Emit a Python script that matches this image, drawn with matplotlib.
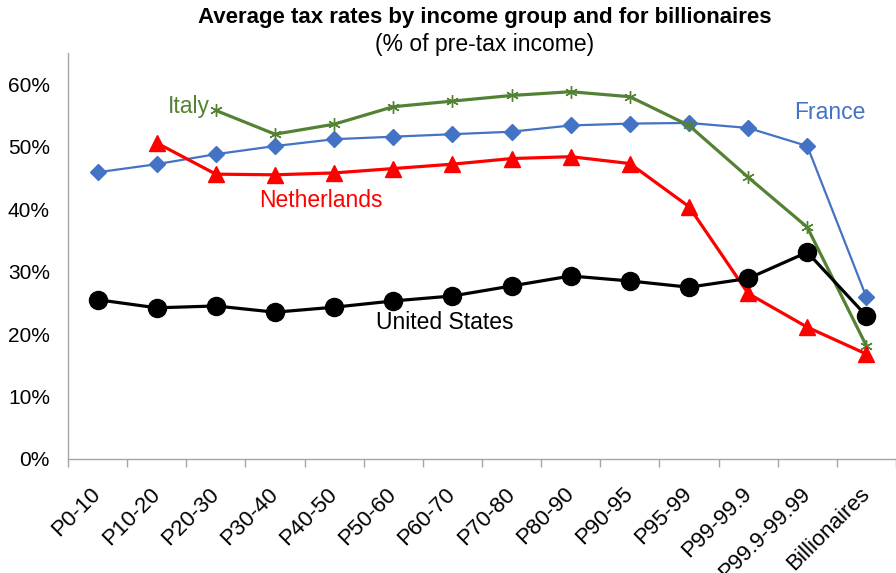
import numpy as np
import matplotlib.pyplot as plt

plt.rcParams['font.family'] = ['Liberation Sans', 'DejaVu Sans']

groups = ['P0-10', 'P10-20', 'P20-30', 'P30-40', 'P40-50', 'P50-60', 'P60-70',
          'P70-80', 'P80-90', 'P90-95', 'P95-99', 'P99-99.9', 'P99.9-99.99',
          'Billionaires']

# average tax rate, % of pre-tax income (None = no data)
france = [45.9, 47.2, 48.8, 50.1, 51.2, 51.6, 52.0, 52.4, 53.4, 53.7, 53.8, 53.0, 50.1, 25.9]
netherlands = [None, 50.6, 45.6, 45.5, 45.8, 46.5, 47.2, 48.1, 48.4, 47.3, 40.4, 26.5, 21.1, 16.8]
italy = [None, None, 55.8, 52.0, 53.6, 56.4, 57.3, 58.2, 58.8, 58.0, 53.4, 45.1, 37.1, 18.1]
usa = [25.5, 24.2, 24.5, 23.5, 24.3, 25.3, 26.1, 27.7, 29.3, 28.5, 27.5, 28.9, 33.1, 22.9]


def to_arr(vals):
    return np.array([np.nan if v is None else v for v in vals], dtype=float)


x = np.arange(len(groups))

fig = plt.figure(figsize=(8.96, 5.73), dpi=100)
ax = fig.add_axes([0.0759, 0.199, 0.9241, 0.7085])

c_fr, c_nl, c_it, c_us = '#4472C4', '#FF0000', '#548235', '#000000'

ax.plot(x, to_arr(france), color=c_fr, lw=1.6, marker='D', ms=8, zorder=3)
ax.plot(x, to_arr(italy), color=c_it, lw=2.3, marker=(6, 2, 0), ms=9,
        mew=1.0, zorder=4)
ax.plot(x, to_arr(netherlands), color=c_nl, lw=2.3, marker='^', ms=12, zorder=5)
ax.plot(x, to_arr(usa), color=c_us, lw=2.3, marker='o', ms=13, zorder=6)

# series labels
ax.text(1.9, 56.5, 'Italy', color=c_it, fontsize=16.5, ha='right', va='center')
ax.text(11.78, 55.4, 'France', color=c_fr, fontsize=16.5, ha='left', va='center')
ax.text(3.77, 41.4, 'Netherlands', color=c_nl, fontsize=16.5, ha='center', va='center')
ax.text(4.71, 21.9, 'United States', color=c_us, fontsize=16.5, ha='left', va='center')

ax.set_xlim(-0.5, len(groups) - 0.5)
ax.set_ylim(0, 65)
ax.set_yticks(np.arange(0, 61, 10))
ax.set_yticklabels(['{}%'.format(v) for v in range(0, 61, 10)], fontsize=15)
ax.tick_params(axis='y', length=0, pad=13)

ax.set_xticks(x)
ax.set_xticklabels(groups, rotation=45, ha='right', va='center',
                   rotation_mode='anchor', fontsize=16)
ax.tick_params(axis='x', which='major', length=0, pad=23)
ax.set_xticks(np.arange(-0.5, len(groups)), minor=True)
ax.tick_params(axis='x', which='minor', length=6, color='#A6A6A6', width=1)

for s in ['top', 'right']:
    ax.spines[s].set_visible(False)
for s in ['left', 'bottom']:
    ax.spines[s].set_color('#A6A6A6')
    ax.spines[s].set_linewidth(1)

fig.text(0.541, 0.9686, 'Average tax rates by income group and for billionaires',
         ha='center', va='center', fontsize=16, fontweight='bold')
fig.text(0.541, 0.923, '(% of pre-tax income)', ha='center', va='center', fontsize=16.5)

fig.savefig('out.png', dpi=100)
